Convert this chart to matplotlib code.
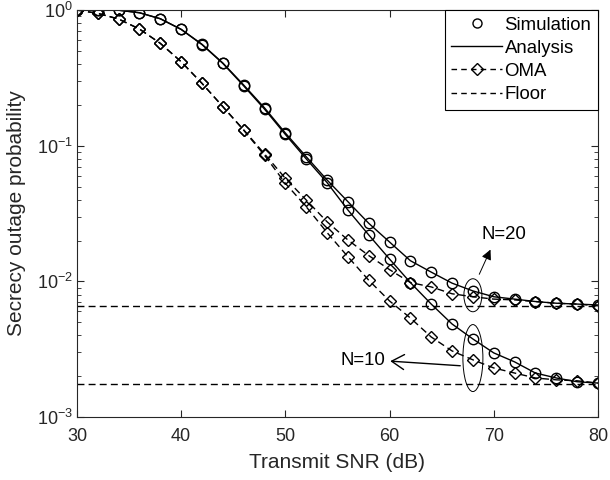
import matplotlib
matplotlib.use("Agg")
import matplotlib.pyplot as plt
from matplotlib.patches import Ellipse
import numpy as np

plt.rcParams['font.family'] = ['Liberation Sans', 'DejaVu Sans']

# transmit SNR (dB)
snr = np.arange(30, 81, 2)

# NOMA, N=20 (simulation and analysis)
noma_n20 = [1.0, 0.999, 0.997, 0.955, 0.863, 0.721, 0.559, 0.407, 0.280,
            0.190, 0.124, 0.083, 0.0559, 0.0387, 0.0268, 0.0195, 0.0142,
            0.0117, 0.0097, 0.0085, 0.0077, 0.0074, 0.0071, 0.0069,
            0.0068, 0.0067]
# NOMA, N=10
noma_n10 = [1.0, 0.999, 0.997, 0.955, 0.862, 0.719, 0.556, 0.404, 0.276,
            0.186, 0.121, 0.080, 0.0535, 0.0336, 0.0220, 0.0146, 0.0098,
            0.0068, 0.00485, 0.00376, 0.00297, 0.00255, 0.00211, 0.00194,
            0.00182, 0.00178]
# OMA, N=20
oma_n20 = [1.0, 0.945, 0.858, 0.724, 0.568, 0.416, 0.288, 0.194, 0.131,
           0.087, 0.0575, 0.0398, 0.0275, 0.0202, 0.0155, 0.0122, 0.0098,
           0.0091, 0.0081, 0.0077, 0.0074, 0.0073, 0.0071, 0.0069, 0.0068,
           0.0066]
# OMA, N=10
oma_n10 = [1.0, 0.945, 0.858, 0.724, 0.568, 0.416, 0.288, 0.194, 0.130,
           0.085, 0.0528, 0.0355, 0.0229, 0.0152, 0.0102, 0.00717, 0.00537,
           0.00389, 0.00307, 0.00264, 0.0023, 0.00211, 0.00194, 0.00188,
           0.00185, 0.00178]

floor_n20 = 0.0066
floor_n10 = 0.00175

gray = '#262626'
dash = (5, 3)

fig = plt.figure(figsize=(6.1, 4.8), dpi=100)
ax = fig.add_axes([0.1262, 0.1312, 0.8540, 0.8479])

ms = 7.5
# analysis lines
ax.plot(snr, noma_n20, '-', color='k', lw=1.0)
ax.plot(snr, noma_n10, '-', color='k', lw=1.0)
# simulation markers
ax.plot(snr, noma_n20, 'o', mfc='none', mec='k', ms=ms, mew=1.0)
ax.plot(snr, noma_n10, 'o', mfc='none', mec='k', ms=ms, mew=1.0)
# OMA
ax.plot(snr, oma_n20, '--', marker='D', color='k', mfc='none', ms=6,
        mew=1.0, lw=1.0, dashes=dash)
ax.plot(snr, oma_n10, '--', marker='D', color='k', mfc='none', ms=6,
        mew=1.0, lw=1.0, dashes=dash)
# floors
ax.axhline(floor_n20, color='k', ls='--', lw=1.0, dashes=dash)
ax.axhline(floor_n10, color='k', ls='--', lw=1.0, dashes=dash)

ax.set_yscale('log')
ax.set_xlim(30, 80)
ax.set_ylim(1e-3, 1)
ax.set_xticks([30, 40, 50, 60, 70, 80])
ax.tick_params(which='both', direction='in', top=True, right=True,
               colors=gray, labelsize=13)
ax.tick_params(which='major', length=5)
ax.tick_params(which='minor', length=3)
ax.tick_params(axis='x', pad=8)
ax.tick_params(axis='y', pad=3)
for s in ax.spines.values():
    s.set_color(gray)
    s.set_linewidth(0.8)
ax.set_xlabel('Transmit SNR (dB)', fontsize=15, color=gray)
ax.set_ylabel('Secrecy outage probability', fontsize=15, color=gray)
ax.xaxis.set_label_coords(0.5, -0.088)
ax.yaxis.set_label_coords(-0.098, 0.5)

# legend
h_sim, = ax.plot([], [], 'o', mfc='none', mec='k', ms=6.5, mew=1.0)
h_ana, = ax.plot([], [], '-', color='k', lw=1.0)
h_oma, = ax.plot([], [], '--', marker='D', color='k', mfc='none', ms=6,
                 mew=1.0, lw=1.0, dashes=(4, 3))
h_flo, = ax.plot([], [], '--', color='k', lw=1.0, dashes=(4, 3))
leg = ax.legend([h_sim, h_ana, h_oma, h_flo],
                ['Simulation', 'Analysis', 'OMA', 'Floor'],
                loc='upper right', fontsize=13.4, fancybox=False,
                framealpha=1, edgecolor='k', handlelength=2.7,
                borderaxespad=0, labelspacing=0.33, handletextpad=0.15,
                borderpad=0.35)
leg.get_frame().set_linewidth(0.8)

# ellipses around the N=20 and N=10 curves at 68 dB
to_axes = ax.transData + ax.transAxes.inverted()
c20 = to_axes.transform((68, 0.0079))
c10 = to_axes.transform((68, 0.00272))
ax.add_patch(Ellipse(c20, 18 / 521, 33 / 407, transform=ax.transAxes,
                     fill=False, ec='k', lw=0.7))
ax.add_patch(Ellipse(c10, 20 / 521, 67 / 407, transform=ax.transAxes,
                     fill=False, ec='k', lw=0.7))

ax.annotate('', xy=(69.8, 0.0179), xytext=(68.5, 0.0108),
            arrowprops=dict(arrowstyle='-|>', color='k', lw=0.7,
                            mutation_scale=15))
ax.text(71.0, 0.022, 'N=20', fontsize=13.4, ha='center', va='center')
ax.annotate('', xy=(59.8, 0.00259), xytext=(67.05, 0.00238),
            arrowprops=dict(arrowstyle='->,head_length=0.5,head_width=0.3',
                            color='k', lw=1.0, mutation_scale=18))
ax.text(59.6, 0.00259, 'N=10', fontsize=13.4, ha='right', va='center')

fig.savefig('out.png', dpi=100)
